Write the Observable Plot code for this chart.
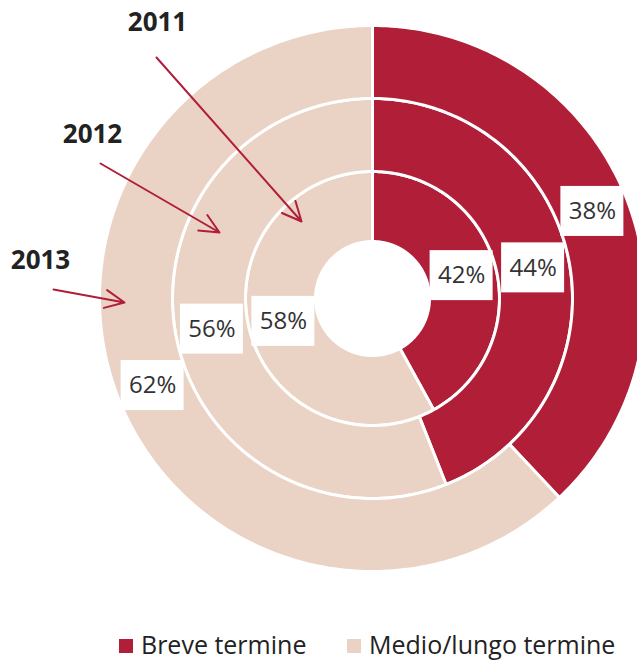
<!DOCTYPE html>
<html>
<head>
<meta charset="utf-8">
<script src="https://cdn.jsdelivr.net/npm/d3@7"></script>
<script src="https://cdn.jsdelivr.net/npm/@observablehq/plot@0.6"></script>
<style>
  html, body { margin: 0; padding: 0; background: #fff; overflow: hidden; width: 637px; height: 664px; }
  #legend { position: relative; height: 49px; font-family: "Open Sans", sans-serif; font-size: 25px; color: #222; }
  .item { position: absolute; top: 12px; display: flex; align-items: center; white-space: nowrap; }
  .sw { width: 14px; height: 14px; margin-right: 8px; margin-top: 3px; }
</style>
</head>
<body>
<div id="chart"></div>
<div id="legend"></div>
<script>
// ---- data ----
const years = ["2011", "2012", "2013"];
const categories = ["Breve termine", "Medio/lungo termine"];
const breve = [42, 44, 38];          // % short term
const medio = [58, 56, 62];          // % medium/long term
const colors = ["#b01e38", "#ead3c5"];

// annotation anchors (data units, centre of donut = 0,0)
const yearLabelX = [-215, -280, -332];
const yearLabelY = [276, 164, 38];
const arrowX1 = [-216, -272, -319];
const arrowY1 = [241, 135, 9];
const arrowX2 = [-71, -153, -248];
const arrowY2 = [77, 66, -4];

// ---- geometry derived from data ----
const W = 637, H = 615;
const radii = [57, 127, 200, 273]; // ring boundaries (inner 2011 -> outer 2013)

const polys = [];
const labels = [];
years.forEach((yr, i) => {
  const r0 = radii[i], r1 = radii[i + 1];
  const vals = [breve[i], medio[i]];
  const tot = vals[0] + vals[1];
  let start = 0;
  vals.forEach((v, k) => {
    const f0 = start / tot, f1 = (start + v) / tot;
    const id = yr + "-" + k;
    const n = Math.max(2, Math.ceil((f1 - f0) * 360));
    const pts = [];
    for (let j = 0; j <= n; j++) {
      const a = 2 * Math.PI * (f0 + (f1 - f0) * j / n);
      pts.push({id, cat: categories[k], x: r1 * Math.sin(a), y: r1 * Math.cos(a)});
    }
    for (let j = n; j >= 0; j--) {
      const a = 2 * Math.PI * (f0 + (f1 - f0) * j / n);
      pts.push({id, cat: categories[k], x: r0 * Math.sin(a), y: r0 * Math.cos(a)});
    }
    pts.push({...pts[0]});
    polys.push(...pts);
    const am = 2 * Math.PI * (f0 + f1) / 2, rm = (r0 + r1) / 2;
    labels.push({text: v + "%", x: rm * Math.sin(am), y: rm * Math.cos(am)});
    start += v;
  });
});

const yearLabels = years.map((y, i) => ({text: y, x: yearLabelX[i], y: yearLabelY[i]}));
const arrows = years.map((y, i) => ({x1: arrowX1[i], y1: arrowY1[i], x2: arrowX2[i], y2: arrowY2[i]}));

const chart = Plot.plot({
  width: W,
  height: H,
  margin: 0,
  x: {domain: [-372, 265], axis: null},
  y: {domain: [-317, 298], axis: null},
  color: {domain: categories, range: colors},
  style: {fontFamily: "'Open Sans', sans-serif", background: "#fff"},
  marks: [
    Plot.line(polys, {x: "x", y: "y", z: "id", fill: "cat", stroke: "#fff", strokeWidth: 3, clip: true, curve: "linear"}),
    Plot.rect(labels, {x1: d => d.x - 31.5, x2: d => d.x + 31.5, y1: d => d.y - 25, y2: d => d.y + 25, fill: "#fff"}),
    Plot.text(labels, {x: "x", y: "y", text: "text", fontSize: 24, fill: "#333", lineAnchor: "middle"}),
    Plot.arrow(arrows, {x1: "x1", y1: "y1", x2: "x2", y2: "y2", stroke: "#b01e38", strokeWidth: 2, headLength: 16, headAngle: 50, bend: 0}),
    Plot.text(yearLabels, {x: "x", y: "y", text: "text", fontSize: 26, fontWeight: "bold", fill: "#222", lineAnchor: "middle"})
  ]
});
document.getElementById("chart").appendChild(chart);

// legend
const legend = document.getElementById("legend");
const legendX = [119, 347];
categories.forEach((c, i) => {
  const it = document.createElement("div");
  it.className = "item";
  it.style.left = legendX[i] + "px";
  it.innerHTML = `<span class="sw" style="background:${colors[i]}"></span><span>${c}</span>`;
  legend.appendChild(it);
});
</script>
</body>
</html>
